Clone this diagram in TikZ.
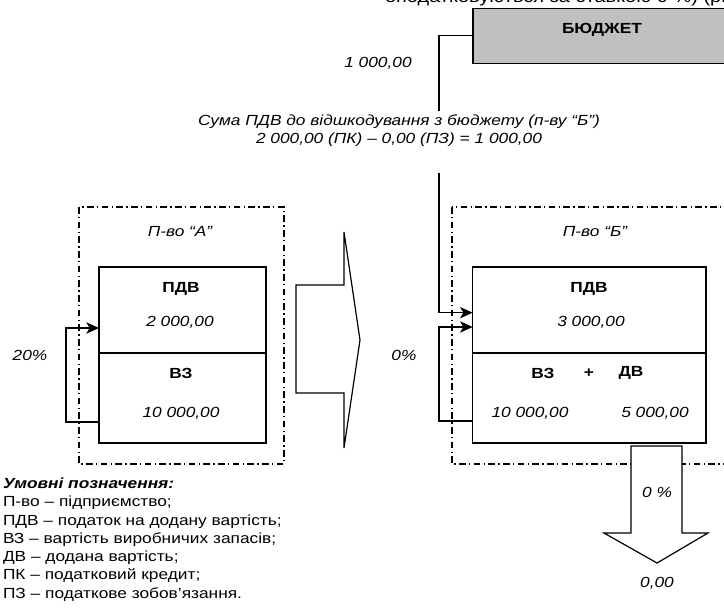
\documentclass[tikz,border=0pt]{standalone}
\usepackage{fontspec}
\setmainfont{Liberation Sans}[FakeStretch=1.18]
\usetikzlibrary{arrows.meta}
\begin{document}
\begin{tikzpicture}[x=0.75pt,y=-0.75pt,
  every node/.style={inner sep=0pt, outer sep=0pt},
  txt/.style={font=\fontsize{11}{13.5}\selectfont},
  itxt/.style={font=\fontsize{11}{13.5}\selectfont\itshape},
  btxt/.style={font=\fontsize{11}{13.5}\selectfont\bfseries},
  cell/.style={draw, line width=0.9pt, fill=white, minimum width=#1},
  frame/.style={draw, line width=0.9pt, dash pattern=on 5pt off 2.5pt on 1pt off 2.5pt},
  line/.style={draw, line width=0.9pt},
  arr/.style={line width=0.9pt, -{Stealth[length=9.5pt,width=8.5pt,inset=2.5pt]}},
  fat/.style={draw, line width=0.9pt, fill=white, line join=miter}
]
\path[use as bounding box] (0,0) rectangle (724,611);
\clip (0,0) rectangle (724,611);

% cut-off text at the very top
\node[anchor=base west, font=\fontsize{12.7}{14}\selectfont] (toptext) at (385,2.5) {оподатковуються за ставкою 0 \%) (рис. 1.1)};

% budget
\node[draw, line width=0.9pt, fill={rgb,255:red,192;green,192;blue,192}, minimum width=215pt, minimum height=41.25pt] (budget) at (616.35,35.8) {};
\node[btxt] (budgettxt) at (602,30) {БЮДЖЕТ};
\node[itxt] (sum1000) at (378,63) {1 000,00};
\node[itxt, align=center] (sumtext) at (399,131) {Сума ПДВ до відшкодування з бюджету (п-ву “Б”)\\2 000,00 (ПК) – 0,00 (ПЗ) = 1 000,00};

% frames
\draw[frame] (79,207) rectangle (284,464);
\draw[frame] (452,207) rectangle (760,464);
\node[itxt] (frameAtxt) at (180,232) {П-во “А”};
\node[itxt] (frameBtxt) at (595,232) {П-во “Б”};

% enterprise A
\node[cell=125.25pt, minimum height=64.5pt] (Atop) at (182.5,310) {};
\node[cell=125.25pt, minimum height=67.5pt] (Abot) at (182.5,398) {};
\node[btxt] (Apdv) at (181,289) {ПДВ};
\node[itxt] (Apdvv) at (180,322) {2 000,00};
\node[btxt] (Avz) at (181,373) {ВЗ};
\node[itxt] (Avzv) at (181,413) {10 000,00};

% enterprise B
\node[cell=175pt, minimum height=64.5pt] (Btop) at (589.35,310) {};
\node[cell=175pt, minimum height=67.5pt] (Bbot) at (589.35,398) {};
\node[btxt] (Bpdv) at (589,289) {ПДВ};
\node[itxt] (Bpdvv) at (591,322) {3 000,00};
\node[btxt] (Bvz) at (543,373) {ВЗ};
\node[btxt] (Bplus) at (589,373) {+};
\node[btxt] (Bdv) at (631,373) {ДВ};
\node[itxt] (Bvzv) at (530,413) {10 000,00};
\node[itxt] (Bdvv) at (655,413) {5 000,00};

% rates
\node[itxt] (rateA) at (30,355) {20\%};
\node[itxt] (rateB) at (404,355) {0\%};

% loops
\draw[arr] ([yshift=-18pt]Abot.west) -- ++(-33,0) |- ([yshift=-13.5pt]Atop.west);
\draw[arr] ([yshift=-17.25pt]Bbot.west) -- ++(-33.7,0) |- ([yshift=-12.75pt]Btop.west);

% budget connector
\coordinate (bgap1) at (439,111);
\coordinate (bgap2) at (439,173);
\draw[line] (budget.west) -| (bgap1);
\draw[arr] (bgap2) |- ([yshift=-2pt]Btop.west);

% big arrow A -> B
\draw[fat] (296,285) -- (344,285) -- (344,232) -- (360,340) -- (344,448) -- (344,393) -- (296,393) -- cycle;

% down arrow from B
\draw[fat] (631,446) -- (682,446) -- (682,533) -- (708,533) -- (657,563) -- (604,533) -- (631,533) -- cycle;
\node[itxt] (outrate) at (657,492) {0 \%};
\node[itxt] (outval) at (657,583) {0,00};

% legend
\node[anchor=north west, align=left, font=\fontsize{11}{13.7}\selectfont] (legend) at (3,478) {{\bfseries\itshape Умовні позначення:}\\
П-во – підприємство;\\
ПДВ – податок на додану вартість;\\
ВЗ – вартість виробничих запасів;\\
ДВ – додана вартість;\\
ПК – податковий кредит;\\
ПЗ – податкове зобов’язання.};
\end{tikzpicture}
\end{document}
